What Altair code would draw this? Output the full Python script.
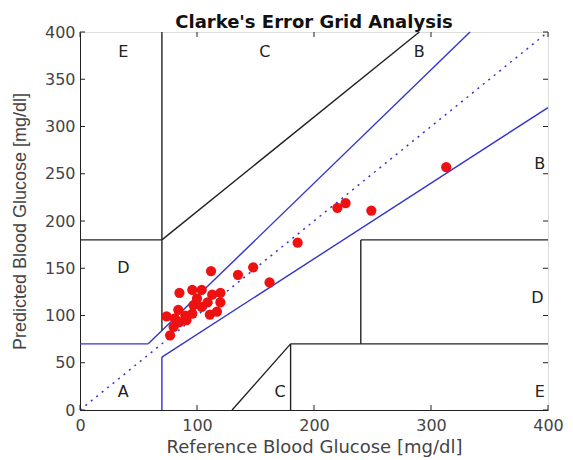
import altair as alt
import pandas as pd

ref = [74, 77, 80, 81, 84, 85, 85, 90, 91, 96, 96, 97, 100, 104, 104, 109, 111, 112, 113, 117, 120, 120, 135, 148, 162, 186, 220, 227, 249, 313]
pred = [99, 79, 88, 97, 106, 93, 124, 100, 95, 102, 127, 111, 118, 109, 127, 114, 101, 147, 122, 104, 124, 114, 143, 151, 135, 177, 214, 219, 211, 257]

# zone boundary segments: x1, y1, x2, y2, kind
seg_x1 = [0, 175/3, 70, 70, 0, 70, 180, 180, 240, 240, 130, 70]
seg_y1 = [70, 70, 0, 56, 180, 180, 0, 70, 70, 180, 0, 84]
seg_x2 = [175/3, 400/1.2, 70, 400, 70, 290, 180, 400, 240, 400, 180, 70]
seg_y2 = [70, 400, 56, 320, 180, 400, 70, 70, 180, 180, 70, 400]
seg_kind = ["blue", "blue", "blue", "blue", "black", "black", "black", "black", "black", "black", "black", "black"]

zone_labels = ["E", "C", "B", "B", "D", "D", "A", "C", "E"]
zone_x = [37, 158, 290, 393, 37, 391, 37, 171, 393]
zone_y = [379, 379, 379, 260, 150, 118, 19, 19, 19]

x_ticks = [0, 100, 200, 300, 400]
y_ticks = [0, 50, 100, 150, 200, 250, 300, 350, 400]

W, H = 468, 378
WIDE = "DejaVu Sans"
NARROW = "Liberation Sans"

xs = alt.Scale(domain=[0, 400], nice=False)
ys = alt.Scale(domain=[0, 400], nice=False)

segs = pd.DataFrame(dict(x=seg_x1, y=seg_y1, x2=seg_x2, y2=seg_y2, kind=seg_kind))
pts = pd.DataFrame(dict(ref=ref, pred=pred))
zl = pd.DataFrame(dict(t=zone_labels, x=zone_x, y=zone_y))
diag = pd.DataFrame(dict(x=[0], y=[0], x2=[400], y2=[400]))
xt = pd.DataFrame(dict(v=x_ticks))
yt = pd.DataFrame(dict(v=y_ticks))

xaxis = alt.Axis(values=x_ticks, tickSize=0, labelPadding=7, labelFontSize=16, labelColor="#444444",
                 labelFont=WIDE, title="Reference Blood Glucose [mg/dl]", titleFont=WIDE,
                 titleFontSize=18, titleFontWeight="normal", titleColor="#444444", titlePadding=5,
                 grid=False, domainColor="#222222", labelFlush=False)
yaxis = alt.Axis(values=y_ticks, tickSize=0, labelPadding=5, labelFontSize=16, labelColor="#444444",
                 labelFont=WIDE, title="Predicted Blood Glucose [mg/dl]", titleFont=NARROW,
                 titleFontSize=18, titleFontWeight="normal", titleColor="#444444", titlePadding=15,
                 grid=False, domainColor="#222222", labelFlush=False)

base_axes = alt.Chart(pts).mark_point(opacity=0).encode(
    x=alt.X("ref:Q", scale=xs, axis=xaxis),
    y=alt.Y("pred:Q", scale=ys, axis=yaxis),
)

diag_line = alt.Chart(diag).mark_rule(color="#3333cc", strokeDash=[2, 5], strokeWidth=1.5).encode(
    x=alt.X("x:Q", scale=xs), y=alt.Y("y:Q", scale=ys), x2="x2", y2="y2")

seg_lines = alt.Chart(segs).mark_rule(strokeWidth=1.4).encode(
    x=alt.X("x:Q", scale=xs), y=alt.Y("y:Q", scale=ys), x2="x2", y2="y2",
    color=alt.Color("kind:N", scale=alt.Scale(domain=["blue", "black"], range=["#3333cc", "#222222"]), legend=None))

points = alt.Chart(pts).mark_circle(size=105, color="#ee1111", opacity=1).encode(
    x=alt.X("ref:Q", scale=xs), y=alt.Y("pred:Q", scale=ys))

labels = alt.Chart(zl).mark_text(fontSize=16, font=WIDE, color="#222222").encode(
    x=alt.X("x:Q", scale=xs), y=alt.Y("y:Q", scale=ys), text="t:N")

tick_b = alt.Chart(xt).mark_rule(color="#222222").encode(
    x=alt.X("v:Q", scale=xs), y=alt.value(H), y2=alt.value(H - 5))
tick_t = alt.Chart(xt).mark_rule(color="#222222").encode(
    x=alt.X("v:Q", scale=xs), y=alt.value(0), y2=alt.value(5))
tick_l = alt.Chart(yt).mark_rule(color="#222222").encode(
    y=alt.Y("v:Q", scale=ys), x=alt.value(0), x2=alt.value(5))
tick_r = alt.Chart(yt).mark_rule(color="#222222").encode(
    y=alt.Y("v:Q", scale=ys), x=alt.value(W), x2=alt.value(W - 5))

chart = alt.layer(base_axes, diag_line, seg_lines, tick_b, tick_t, tick_l, tick_r, points, labels).properties(
    width=W, height=H,
    title=alt.Title("Clarke's Error Grid Analysis", font=WIDE, fontSize=18, fontWeight="bold",
                    color="#111111", offset=-8),
    autosize=alt.AutoSizeParams(type="none"),
    padding={"left": 72, "top": 24, "right": 17, "bottom": 50},
).configure_view(stroke="#222222", strokeWidth=1.2).configure(background="white")

chart.save("out.html", embed_options={"renderer": "svg", "actions": False})
